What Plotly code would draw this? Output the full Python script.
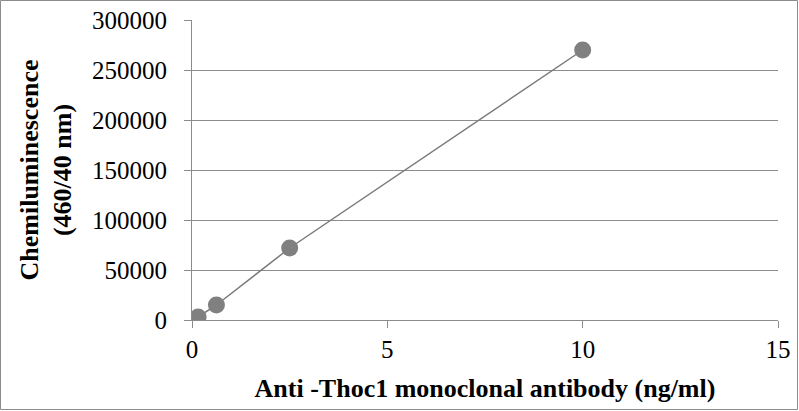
import plotly.graph_objects as go

x_conc = [0.156, 0.625, 2.5, 10]
y_signal = [3000, 15000, 72000, 270000]
x_ticks = [0, 5, 10, 15]
y_ticks = [0, 50000, 100000, 150000, 200000, 250000, 300000]

fig = go.Figure()
fig.add_trace(go.Scatter(
    x=x_conc, y=y_signal, mode="lines+markers",
    line=dict(color="#7a7a7a", width=1.5),
    marker=dict(color="#808080", size=17, line=dict(width=0)),
    showlegend=False, hoverinfo="skip",
))

L, R, T, B = 192, 21, 20, 91
W, H = 799, 411
pw, ph = W - L - R, H - T - B
fig.add_shape(type="rect", xref="paper", yref="paper",
              x0=(0.5 - L) / pw, x1=(W - 1.5 - L) / pw,
              y0=(H - B - (H - 1.5)) / ph, y1=(H - B - 0.5) / ph,
              line=dict(color="#8c8c8c", width=1), layer="below")

fam = "Times New Roman"
tick_sz = 25
title_sz = 26
fig.update_layout(
    width=W, height=H,
    margin=dict(l=L, r=R, t=T, b=B),
    paper_bgcolor="white", plot_bgcolor="white",
    font=dict(family=fam, color="black", size=tick_sz),
    xaxis=dict(range=[0, 15], tickvals=x_ticks, showgrid=False, zeroline=False,
               ticks="outside", ticklen=7, tickcolor="#8c8c8c", showline=True,
               linecolor="#8c8c8c", linewidth=1, automargin=False,
               tickfont=dict(family=fam, size=tick_sz, color="black"),
               title=dict(text="<b>Anti -Thoc1 monoclonal antibody (ng/ml)</b>",
                          font=dict(family=fam, size=title_sz, color="black"), standoff=16)),
    yaxis=dict(range=[0, 300000], tickvals=y_ticks, tickformat="d",
               showgrid=True, gridcolor="#8c8c8c", gridwidth=1, zeroline=False,
               ticks="outside", ticklen=7, tickcolor="#8c8c8c", showline=True,
               linecolor="#8c8c8c", linewidth=1, automargin=False,
               ticklabelstandoff=12,
               tickfont=dict(family=fam, size=tick_sz, color="black"),
               title=dict(text="<b>Chemiluminescence<br>(460/40 nm)</b>",
                          font=dict(family=fam, size=title_sz, color="black"), standoff=12)),
)
fig.write_html("out.html", config={"displayModeBar": False},
               post_script="document.body.style.margin='0';document.body.style.padding='0';")
